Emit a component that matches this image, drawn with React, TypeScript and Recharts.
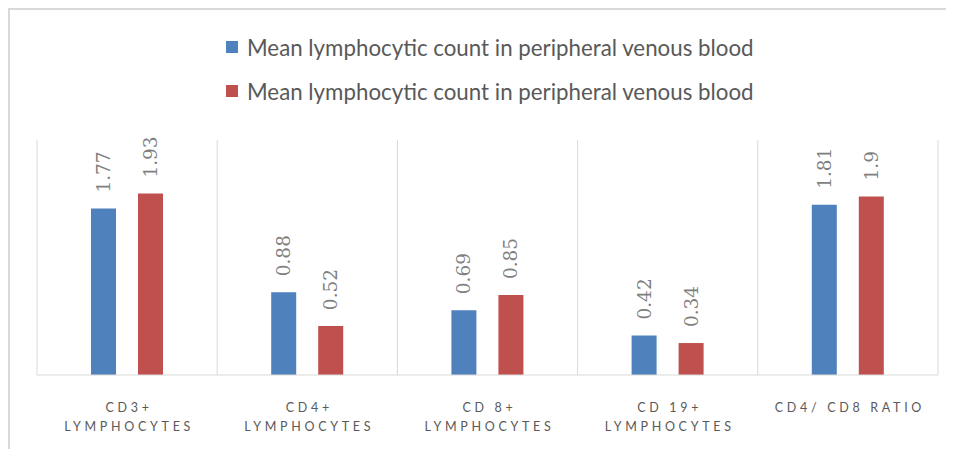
import {
  Bar,
  BarChart,
  CartesianGrid,
  LabelList,
  Legend,
  XAxis,
  YAxis,
} from "recharts";

const categories = [
  "CD3+\nLYMPHOCYTES",
  "CD4+\nLYMPHOCYTES",
  "CD 8+\nLYMPHOCYTES",
  "CD 19+\nLYMPHOCYTES",
  "CD4/ CD8 RATIO",
];
const seriesA = [1.77, 0.88, 0.69, 0.42, 1.81];
const seriesB = [1.93, 0.52, 0.85, 0.34, 1.9];
const seriesNames = [
  "Mean lymphocytic count in peripheral venous blood",
  "Mean lymphocytic count in peripheral venous blood",
];
// category boundaries (between-group separators)
const boundaryTicks = [0, 1, 2, 3, 4, 5];

const data = categories.map((name, i) => ({
  name,
  a: seriesA[i],
  b: seriesB[i],
}));

const BLUE = "#4F81BD";
const RED = "#C0504D";

const CategoryTick = (props: any) => {
  const { x, y, payload } = props;
  const lines = String(payload.value).split("\n");
  return (
    <text
      x={x}
      y={y + 37}
      textAnchor="middle"
      fill="#595959"
      fontFamily="Lato"
      fontSize={12.5}
      letterSpacing={3.7}
    >
      {lines.map((line, i) => (
        <tspan key={i} x={x + 2} dy={i === 0 ? 0 : 19}>
          {line}
        </tspan>
      ))}
    </text>
  );
};

const BarValue = (props: any) => {
  const { x, y, width, value } = props;
  const cx = x + width / 2;
  const ty = y - 16;
  return (
    <text
      x={cx}
      y={ty}
      transform={`rotate(-90, ${cx}, ${ty})`}
      textAnchor="start"
      dominantBaseline="central"
      fill="#7f7f7f"
      fontFamily="DejaVu Serif"
      fontSize={18.5}
    >
      {value}
    </text>
  );
};

const LegendRows = (props: any) => {
  const { payload } = props;
  return (
    <div>
      {(payload || []).map((entry: any, i: number) => (
        <div
          key={i}
          style={{
            display: "flex",
            alignItems: "center",
            height: 24,
            marginBottom: 20,
          }}
        >
          <span
            style={{
              display: "inline-block",
              width: 12,
              height: 12,
              background: entry.color,
              marginRight: 9,
            }}
          />
          <span
            style={{
              fontFamily: "Lato",
              fontSize: 22.3,
              color: "#595959",
              whiteSpace: "nowrap",
            }}
          >
            {entry.value}
          </span>
        </div>
      ))}
    </div>
  );
};

// separators between category groups, spread over the plot area
const boundaryLines = (props: any) => {
  const { offset } = props;
  const n = boundaryTicks.length - 1;
  return boundaryTicks.map((t) => offset.left + (t * offset.width) / n);
};

export default function App() {
  return (
    <div
      style={{
        width: 944,
        height: 439,
        borderTop: "2px solid #d9d9d9",
        borderLeft: "2px solid #d9d9d9",
        background: "#fff",
      }}
    >
      <BarChart
        width={936}
        height={439}
        data={data}
        margin={{ top: 130, right: 8, left: 27, bottom: 44 }}
        barGap={22}
        barCategoryGap={54}
      >
        <CartesianGrid
          horizontal={false}
          stroke="#d9d9d9"
          verticalCoordinatesGenerator={boundaryLines}
        />
        <XAxis
          dataKey="name"
          tick={<CategoryTick />}
          tickLine={false}
          tickSize={0}
          tickMargin={0}
          axisLine={{ stroke: "#d9d9d9" }}
          interval={0}
        />
        <YAxis hide domain={[0, 2.5]} />
        <Legend
          layout="horizontal"
          verticalAlign="middle"
          align="center"
          content={<LegendRows />}
          wrapperStyle={{ top: 25, left: 216, width: 650 }}
        />
        <Bar
          dataKey="a"
          name={seriesNames[0]}
          fill={BLUE}
          isAnimationActive={false}
        >
          <LabelList dataKey="a" content={<BarValue />} />
        </Bar>
        <Bar
          dataKey="b"
          name={seriesNames[1]}
          fill={RED}
          isAnimationActive={false}
        >
          <LabelList dataKey="b" content={<BarValue />} />
        </Bar>
      </BarChart>
    </div>
  );
}
